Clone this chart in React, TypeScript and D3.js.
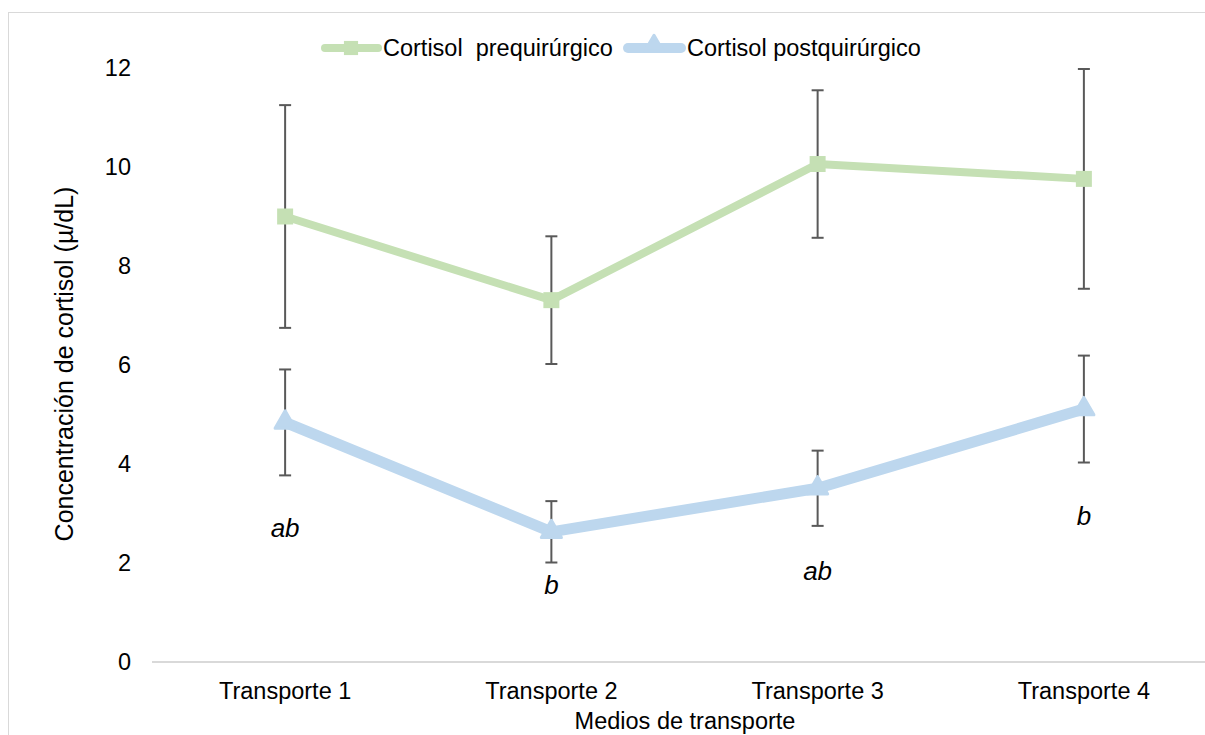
import React from "react";
import * as d3 from "d3";

// Cortisol concentration by transport medium (mean ± SD)
const categories = ["Transporte 1", "Transporte 2", "Transporte 3", "Transporte 4"];
const preValues = [9.0, 7.31, 10.06, 9.76];
const preErrors = [2.25, 1.29, 1.49, 2.22];
const postValues = [4.84, 2.63, 3.51, 5.11];
const postErrors = [1.07, 0.62, 0.76, 1.08];
const postLetters = ["ab", "b", "ab", "b"];
const letterValues = [2.7, 1.55, 1.85, 2.95];
const yTicks = [0, 2, 4, 6, 8, 10, 12];

const W = 1205;
const H = 735;
const FONT = "'Liberation Sans', Arial, sans-serif";
const FS = 23.5;
const PRE_COLOR = "#c5e0b4";
const POST_COLOR = "#bdd7ee";
const ERR_COLOR = "#595959";

export default function App() {
  const x = d3.scaleBand<string>().domain(categories).range([152, 1217]);
  const y = d3.scaleLinear().domain([0, 12]).range([662, 68]);
  const cx = (c: string) => (x(c) as number) + x.bandwidth() / 2;

  const line = d3
    .line<number>()
    .x((_, i) => cx(categories[i]))
    .y((v) => y(v));

  const tri = d3.symbol().type(d3.symbolTriangle).size(175)() as string;
  const triLegend = d3.symbol().type(d3.symbolTriangle).size(150)() as string;
  const sq = d3.symbol().type(d3.symbolSquare).size(256)() as string;
  const sqLegend = d3.symbol().type(d3.symbolSquare).size(200)() as string;

  const errorBars = (vals: number[], errs: number[], key: string) =>
    vals.map((v, i) => {
      const xc = cx(categories[i]);
      const y0 = y(v - errs[i]);
      const y1 = y(v + errs[i]);
      return (
        <g key={key + i} stroke={ERR_COLOR} strokeWidth={2}>
          <line x1={xc} x2={xc} y1={y0} y2={y1} />
          <line x1={xc - 6} x2={xc + 6} y1={y0} y2={y0} />
          <line x1={xc - 6} x2={xc + 6} y1={y1} y2={y1} />
        </g>
      );
    });

  return (
    <svg
      width={W}
      height={H}
      style={{ position: "fixed", left: 0, top: 0, background: "#fff" }}
      fontFamily={FONT}
    >
      <rect x={8.5} y={12.5} width={W + 20} height={H + 20} fill="#fff" stroke="#d9d9d9" />

      {/* x axis line */}
      <line x1={x.range()[0]} x2={W + 10} y1={y(0)} y2={y(0)} stroke="#d9d9d9" strokeWidth={2} />

      {/* y tick labels */}
      {yTicks.map((t) => (
        <text key={t} x={131} y={y(t)} dy="0.35em" textAnchor="end" fontSize={FS} fill="#000">
          {t}
        </text>
      ))}

      {/* category labels */}
      {categories.map((c) => (
        <text key={c} x={cx(c)} y={699} textAnchor="middle" fontSize={FS} fill="#000">
          {c}
        </text>
      ))}

      <text x={685} y={729} textAnchor="middle" fontSize={FS} fill="#000">
        Medios de transporte
      </text>
      <text
        transform={`translate(73,${364}) rotate(-90)`}
        textAnchor="middle"
        fontSize={25}
        fill="#000"
      >
        Concentración de cortisol (µ/dL)
      </text>

      {/* error bars */}
      {errorBars(preValues, preErrors, "pre")}
      {errorBars(postValues, postErrors, "post")}

      {/* series lines */}
      <path d={line(preValues) as string} fill="none" stroke={PRE_COLOR} strokeWidth={8} strokeLinejoin="round" />
      <path d={line(postValues) as string} fill="none" stroke={POST_COLOR} strokeWidth={11} strokeLinejoin="round" />

      {preValues.map((v, i) => (
        <path key={"ps" + i} d={sq} transform={`translate(${cx(categories[i])},${y(v)})`} fill={PRE_COLOR} />
      ))}
      {postValues.map((v, i) => (
        <path
          key={"pt" + i}
          d={tri}
          transform={`translate(${cx(categories[i])},${y(v)})`}
          fill={POST_COLOR}
          stroke={POST_COLOR}
          strokeWidth={3}
          strokeLinejoin="round"
        />
      ))}

      {/* significance letters */}
      {postLetters.map((l, i) => (
        <text
          key={"l" + i}
          x={cx(categories[i])}
          y={y(letterValues[i])}
          dy="0.35em"
          textAnchor="middle"
          fontSize={26}
          fontStyle="italic"
          fill="#000"
        >
          {l}
        </text>
      ))}

      {/* legend */}
      <g>
        <line x1={325} x2={378} y1={48} y2={48} stroke={PRE_COLOR} strokeWidth={8} strokeLinecap="round" />
        <path d={sqLegend} transform="translate(351,48)" fill={PRE_COLOR} />
        <text x={383} y={48} dy="0.35em" fontSize={FS} fill="#000" style={{ whiteSpace: "pre" }}>
          {"Cortisol  prequirúrgico"}
        </text>
        <line x1={628} x2={681} y1={48} y2={48} stroke={POST_COLOR} strokeWidth={10} strokeLinecap="round" />
        <path d={triLegend} transform="translate(654,46)" fill={POST_COLOR} stroke={POST_COLOR} strokeWidth={3} strokeLinejoin="round" />
        <text x={687} y={48} dy="0.35em" fontSize={FS} fill="#000">
          Cortisol postquirúrgico
        </text>
      </g>
    </svg>
  );
}
